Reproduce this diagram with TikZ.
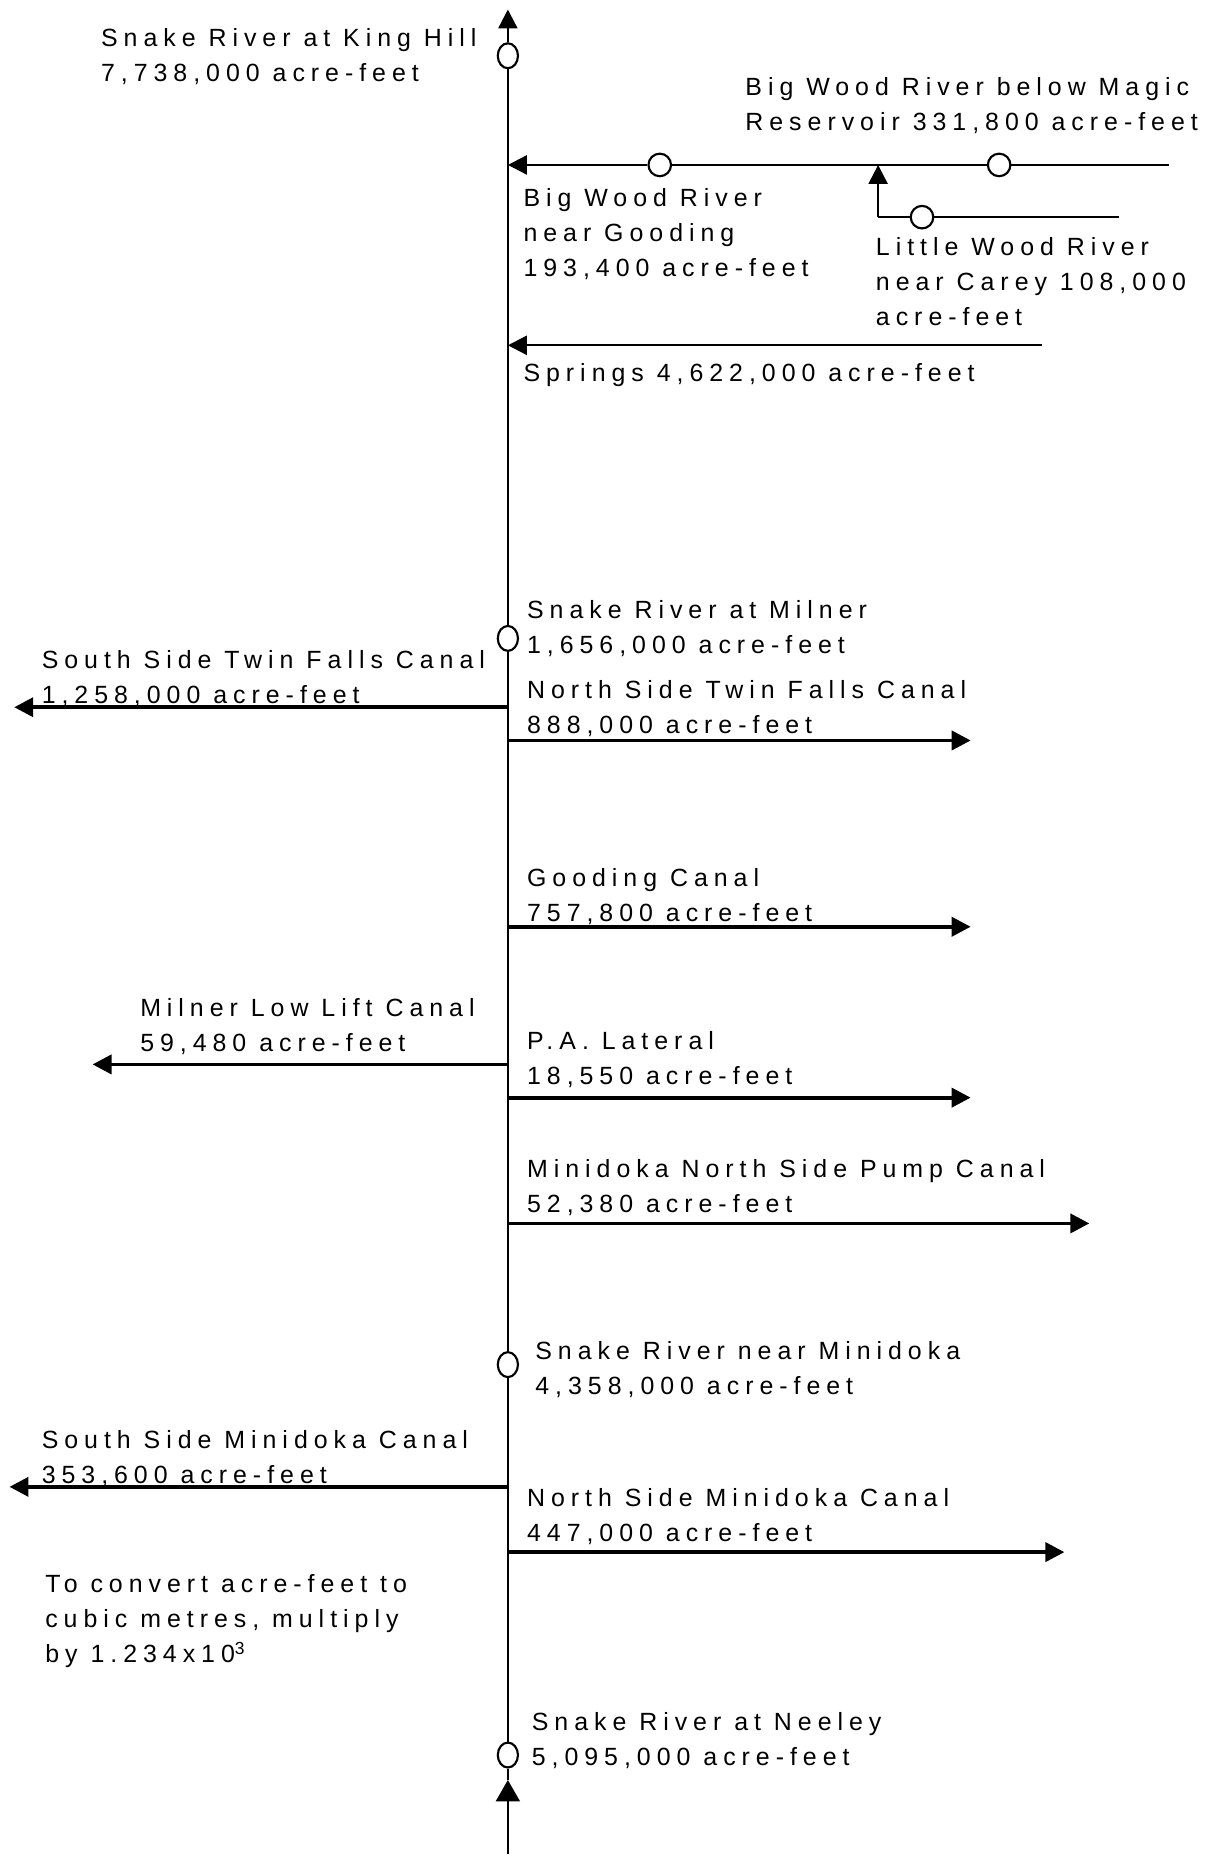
\documentclass[tikz,border=0pt]{standalone}
\usepackage{fontspec}
\setmainfont{Liberation Sans}[LetterSpace=24]
\usetikzlibrary{arrows.meta,shapes.geometric}

\begin{document}
\begin{tikzpicture}[x=1pt, y=-1pt,
  station/.style={ellipse, draw, line width=1.8pt, fill=white, inner sep=0, minimum width=17pt, minimum height=21pt},
  hstation/.style={circle, draw, line width=1.8pt, fill=white, inner sep=0, minimum size=19pt},
  river/.style={line width=2pt},
  tip/.style={-{Triangle[length=16pt,width=16pt]}},
  canal/.style={line width=3.2pt, tip},
  lbl/.style={anchor=north west, inner sep=0, align=left, font=\fontsize{21}{29.5}\selectfont}]
\useasboundingbox (0,0) rectangle (1024,1570);
\coordinate (top) at (428,8);
\coordinate (bot) at (428,1562);
\coordinate (uptip) at (428,1500);
\node [station] (kinghill) at (428,47) {};
\node [station] (milner) at (428,538) {};
\node [station] (minidoka) at (428,1150) {};
\node [station] (neeley) at (428,1479) {};
\draw [river,-{Triangle[length=18pt,width=20pt]}] (bot) -- (uptip);
\draw [river] (uptip) -- (neeley) -- (minidoka) -- (milner) -- (kinghill);
\draw [river,tip] (kinghill) -- (top);
\coordinate (bigwood-in) at (428,139);
\coordinate (bigwood-end) at (985,139);
\coordinate (junction) at (740,139);
\node [hstation] (magic) at (842,139) {};
\node [hstation] (gooding) at (556,139) {};
\draw [river] (bigwood-end) -- (magic) -- (junction) -- (gooding);
\draw [river,tip] (gooding) -- (bigwood-in);
\coordinate (littlewood-end) at (943,183);
\coordinate (littlewood-bend) at (740,183);
\node [hstation] (carey) at (777,183) {};
\draw [river] (littlewood-end) -- (carey) -- (littlewood-bend);
\draw [river,tip] (littlewood-bend) -- (junction);
\coordinate (springs-in) at (428,291);
\coordinate (springs-end) at (878,291);
\draw [river,tip] (springs-end) -- (springs-in);
\coordinate (sstf) at (428,596);
\coordinate (sstf-end) at (12,596);
\coordinate (nstf) at (428,624);
\coordinate (nstf-end) at (818,624);
\coordinate (goodingcanal) at (428,781);
\coordinate (goodingcanal-end) at (818,781);
\coordinate (lowlift) at (428,897);
\coordinate (lowlift-end) at (78,897);
\coordinate (palateral) at (428,925);
\coordinate (palateral-end) at (818,925);
\coordinate (pump) at (428,1031);
\coordinate (pump-end) at (918,1031);
\coordinate (ssmini) at (428,1253);
\coordinate (ssmini-end) at (8,1253);
\coordinate (nsmini) at (428,1308);
\coordinate (nsmini-end) at (897,1308);
\draw [canal] (sstf) -- (sstf-end);
\draw [canal] (nstf) -- (nstf-end);
\draw [canal] (goodingcanal) -- (goodingcanal-end);
\draw [canal] (lowlift) -- (lowlift-end);
\draw [canal] (palateral) -- (palateral-end);
\draw [canal] (pump) -- (pump-end);
\draw [canal] (ssmini) -- (ssmini-end);
\draw [canal] (nsmini) -- (nsmini-end);
\node [lbl] (kinghill-lbl) at (85,24) {Snake River at King Hill\\7,738,000 acre-feet};
\node [lbl] (magic-lbl) at (628,65) {Big Wood River below Magic\\Reservoir 331,800 acre-feet};
\node [lbl] (gooding-lbl) at (441,159) {Big Wood River\\near Gooding\\193,400 acre-feet};
\node [lbl] (carey-lbl) at (738,200) {Little Wood River\\near Carey 108,000\\acre-feet};
\node [lbl] (springs-lbl) at (441,306) {Springs 4,622,000 acre-feet};
\node [lbl] (milner-lbl) at (444,506) {Snake River at Milner\\1,656,000 acre-feet};
\node [lbl] (sstf-lbl) at (35,548) {South Side Twin Falls Canal\\1,258,000 acre-feet};
\node [lbl] (nstf-lbl) at (444,573) {North Side Twin Falls Canal\\888,000 acre-feet};
\node [lbl] (goodingcanal-lbl) at (444,732) {Gooding Canal\\757,800 acre-feet};
\node [lbl] (lowlift-lbl) at (118,841) {Milner Low Lift Canal\\59,480 acre-feet};
\node [lbl] (palateral-lbl) at (444,869) {P.A. Lateral\\18,550 acre-feet};
\node [lbl] (pump-lbl) at (444,977) {Minidoka North Side Pump Canal\\52,380 acre-feet};
\node [lbl] (minidoka-lbl) at (451,1130) {Snake River near Minidoka\\4,358,000 acre-feet};
\node [lbl] (ssmini-lbl) at (35,1205) {South Side Minidoka Canal\\353,600 acre-feet};
\node [lbl] (nsmini-lbl) at (444,1254) {North Side Minidoka Canal\\447,000 acre-feet};
\node [lbl] (convert) at (38,1327) {To convert acre-feet to\\cubic metres, multiply\\by 1.234x10\textsuperscript{3}};
\node [lbl] (neeley-lbl) at (448,1443) {Snake River at Neeley\\5,095,000 acre-feet};
\end{tikzpicture}
\end{document}
